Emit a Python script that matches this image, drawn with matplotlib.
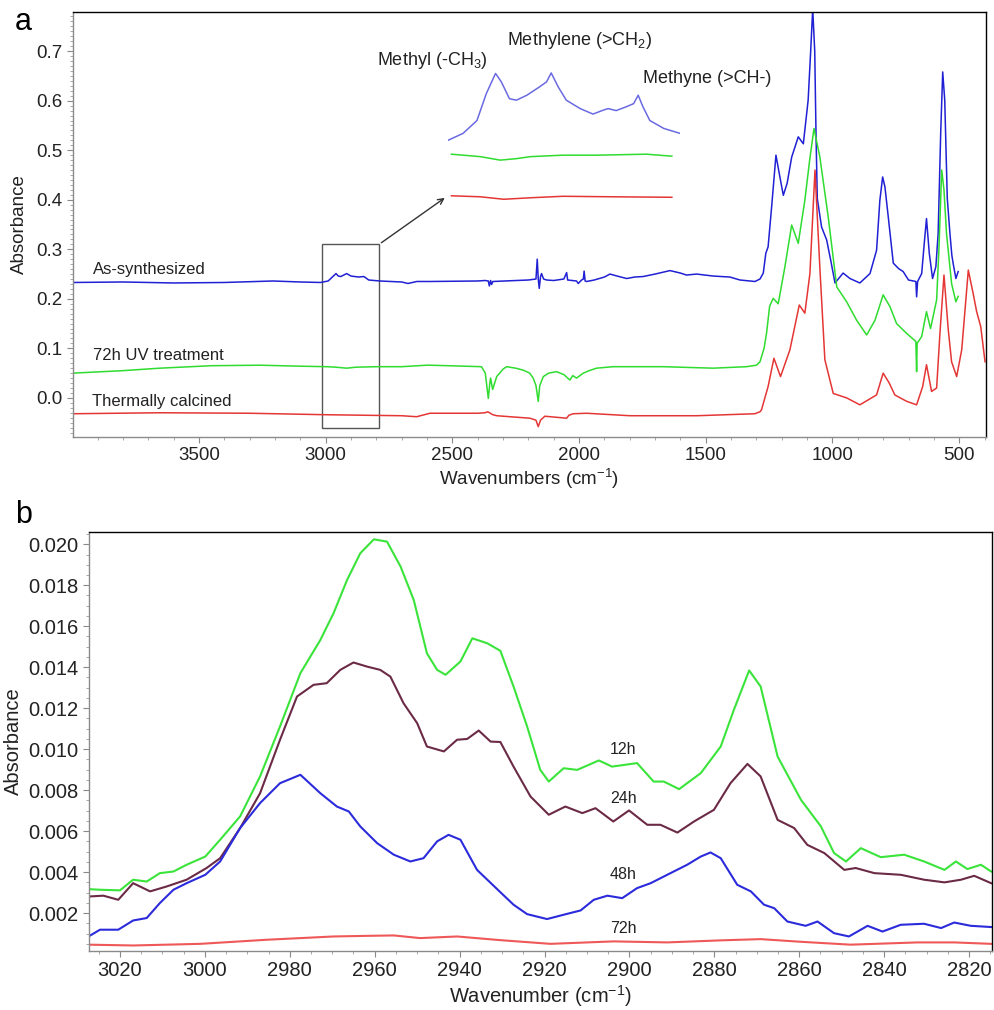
import numpy as np
import matplotlib
matplotlib.use("Agg")
import matplotlib.pyplot as plt
from matplotlib.patches import Rectangle
from matplotlib.ticker import MultipleLocator, FormatStrFormatter

plt.rcParams['font.family'] = ['Liberation Sans', 'DejaVu Sans']
plt.rcParams['mathtext.default'] = 'regular'

# ---------------- panel a: full FTIR spectra ----------------
blue_wn = [3997, 3800, 3600, 3400, 3208, 3100, 3020, 2990, 2959, 2950, 2940, 2917, 2900, 2870,
           2849, 2830, 2786, 2700, 2675, 2640, 2588, 2400, 2371, 2358, 2354, 2349, 2345, 2340,
           2200, 2170, 2165, 2161, 2157, 2152, 2148, 2140, 2128, 2100, 2060, 2049, 2045, 2010,
           2003, 1990, 1983, 1980, 1976, 1970, 1940, 1900, 1878, 1850, 1812, 1780, 1747, 1700,
           1641, 1600, 1576, 1536, 1471, 1405, 1365, 1306, 1286, 1273, 1263, 1254, 1240, 1223,
           1210, 1194, 1179, 1161, 1135, 1115, 1096, 1086, 1078, 1070, 1065, 1060, 1043, 1023,
           1007, 990, 958, 931, 892, 852, 826, 813, 802, 793, 780, 760, 739, 721, 700, 671, 668,
           664, 648, 639, 629, 618, 605, 592, 583, 573, 565, 557, 547, 537, 529, 524, 513, 504]
blue_y = [0.233, 0.234, 0.232, 0.233, 0.236, 0.234, 0.233, 0.236, 0.251, 0.246, 0.245, 0.251,
          0.246, 0.244, 0.245, 0.238, 0.236, 0.234, 0.231, 0.235, 0.235, 0.236, 0.237, 0.236,
          0.226, 0.237, 0.229, 0.235, 0.238, 0.240, 0.280, 0.240, 0.221, 0.245, 0.251, 0.240,
          0.238, 0.237, 0.240, 0.253, 0.238, 0.236, 0.231, 0.238, 0.240, 0.256, 0.236, 0.235,
          0.238, 0.244, 0.250, 0.246, 0.241, 0.244, 0.245, 0.250, 0.257, 0.252, 0.248, 0.250,
          0.246, 0.244, 0.238, 0.235, 0.240, 0.252, 0.292, 0.305, 0.386, 0.490, 0.453, 0.409,
          0.433, 0.486, 0.527, 0.513, 0.601, 0.700, 0.785, 0.700, 0.534, 0.403, 0.345, 0.319,
          0.278, 0.232, 0.252, 0.241, 0.232, 0.251, 0.298, 0.399, 0.446, 0.426, 0.366, 0.272,
          0.261, 0.255, 0.238, 0.235, 0.204, 0.235, 0.251, 0.305, 0.362, 0.292, 0.241, 0.265,
          0.332, 0.534, 0.658, 0.601, 0.403, 0.335, 0.288, 0.272, 0.241, 0.255]

green_wn = [3997, 3800, 3654, 3450, 3259, 3100, 2996, 2960, 2917, 2880, 2799, 2700, 2601, 2588,
            2450, 2385, 2370, 2358, 2352, 2349, 2341, 2333, 2325, 2300, 2286, 2250, 2220, 2195,
            2181, 2170, 2161, 2155, 2141, 2120, 2089, 2060, 2036, 2025, 2010, 1983, 1960, 1931,
            1865, 1668, 1471, 1339, 1300, 1286, 1270, 1260, 1248, 1234, 1214, 1188, 1161, 1135,
            1109, 1090, 1073, 1050, 1017, 983, 944, 905, 865, 832, 800, 773, 747, 707, 671, 668,
            666, 648, 629, 613, 589, 580, 569, 560, 550, 530, 513, 504]
green_y = [0.050, 0.055, 0.060, 0.065, 0.066, 0.064, 0.063, 0.062, 0.060, 0.062, 0.063, 0.063,
           0.066, 0.066, 0.064, 0.063, 0.050, -0.001, 0.030, 0.040, 0.017, 0.030, 0.043, 0.058,
           0.063, 0.060, 0.056, 0.050, 0.040, 0.025, -0.007, 0.025, 0.043, 0.050, 0.053, 0.047,
           0.036, 0.045, 0.040, 0.050, 0.055, 0.060, 0.063, 0.063, 0.060, 0.063, 0.066, 0.073,
           0.100, 0.131, 0.185, 0.201, 0.190, 0.264, 0.349, 0.312, 0.399, 0.480, 0.544, 0.487,
           0.366, 0.224, 0.194, 0.157, 0.127, 0.157, 0.208, 0.184, 0.150, 0.130, 0.114, 0.053,
           0.110, 0.124, 0.174, 0.140, 0.198, 0.300, 0.460, 0.420, 0.332, 0.231, 0.194, 0.205]

red_wn = [3997, 3654, 3300, 2996, 2850, 2700, 2641, 2588, 2400, 2371, 2360, 2340, 2325, 2194,
          2170, 2161, 2152, 2135, 2049, 2040, 2023, 1970, 1799, 1536, 1306, 1286, 1280, 1254,
          1231, 1205, 1168, 1131, 1109, 1089, 1069, 1050, 1030, 997, 944, 892, 826, 800, 776,
          754, 707, 668, 644, 629, 609, 589, 576, 560, 543, 530, 510, 490, 464, 445, 431, 415, 398]
red_y = [-0.032, -0.030, -0.031, -0.034, -0.035, -0.036, -0.038, -0.031, -0.031, -0.030, -0.028,
         -0.034, -0.036, -0.041, -0.045, -0.058, -0.045, -0.037, -0.041, -0.035, -0.032, -0.031,
         -0.036, -0.036, -0.032, -0.028, -0.024, 0.023, 0.080, 0.043, 0.097, 0.1875, 0.171, 0.251,
         0.460, 0.265, 0.077, 0.009, 0.000, -0.014, 0.006, 0.050, 0.030, 0.006, -0.007, -0.014,
         0.023, 0.067, 0.013, 0.020, 0.130, 0.248, 0.137, 0.073, 0.043, 0.097, 0.258, 0.211,
         0.174, 0.144, 0.073]

# magnified C-H stretching region (inset)
inset_wn_blue = [3000, 2987, 2975, 2967, 2959, 2954, 2947, 2941, 2932, 2921, 2915, 2911, 2905,
                 2898, 2886, 2875, 2866, 2862, 2855, 2846, 2840, 2836, 2832, 2826, 2814, 2800]
inset_blue = [0.520, 0.534, 0.560, 0.614, 0.655, 0.638, 0.604, 0.601, 0.611, 0.628, 0.638,
              0.656, 0.628, 0.601, 0.584, 0.573, 0.581, 0.584, 0.580, 0.588, 0.594, 0.611,
              0.588, 0.560, 0.544, 0.534]
inset_wn_green = [2997, 2972, 2955, 2941, 2929, 2901, 2872, 2829, 2807]
inset_green = [0.492, 0.487, 0.480, 0.483, 0.487, 0.490, 0.490, 0.492, 0.488]
inset_wn_red = [2997, 2972, 2952, 2929, 2901, 2858, 2807]
inset_red = [0.408, 0.406, 0.401, 0.404, 0.407, 0.406, 0.405]

# ---------------- panel b: C-H region vs UV time ----------------
h12_wn = [3027.4, 3024.7, 3020, 3016.9, 3013.7, 3010.6, 3007.4, 3004.3, 2999.9, 2996.4, 2991.7,
          2987, 2982.3, 2977.5, 2972.8, 2969.7, 2966.5, 2963.4, 2960.2, 2957.1, 2953.9, 2950.8,
          2947.7, 2945.3, 2943.3, 2939.8, 2937, 2933.5, 2930.4, 2927.3, 2924.1, 2921, 2919,
          2915.5, 2912.3, 2907.2, 2904.1, 2898.2, 2894.3, 2891.9, 2888.3, 2883.2, 2878.5, 2875.4,
          2871.8, 2869.1, 2865.1, 2859.6, 2854.9, 2851.8, 2849, 2845.5, 2840.8, 2835.3, 2830.6,
          2825.8, 2823.1, 2820.4, 2817.2, 2814.8]
h12 = [0.00317, 0.00314, 0.00311, 0.00363, 0.00354, 0.00395, 0.00403, 0.00436, 0.00476, 0.00558,
       0.00672, 0.00867, 0.01111, 0.01371, 0.01533, 0.01663, 0.01826, 0.01956, 0.02024, 0.02013,
       0.01891, 0.01728, 0.01468, 0.01387, 0.01363, 0.01428, 0.01541, 0.01517, 0.01480, 0.01306,
       0.01111, 0.00899, 0.00842, 0.00907, 0.00899, 0.00945, 0.00915, 0.00932, 0.00842, 0.00842,
       0.00805, 0.00883, 0.01013, 0.01192, 0.01384, 0.01306, 0.00964, 0.00753, 0.00623, 0.00493,
       0.00452, 0.00517, 0.00473, 0.00485, 0.00452, 0.00411, 0.00452, 0.00415, 0.00436, 0.00403]

h24_wn = [3027.4, 3023.9, 3020.4, 3016.9, 3012.9, 3009, 3004.3, 2999.6, 2996.4, 2991.7, 2987,
          2982.3, 2978.3, 2974.4, 2971.3, 2968.1, 2965, 2961.8, 2958.7, 2956.3, 2953.2, 2950,
          2947.7, 2943.7, 2940.6, 2938.2, 2935.5, 2932.7, 2930.4, 2927.3, 2923.3, 2919, 2915.1,
          2911.1, 2908, 2903.8, 2900.1, 2895.8, 2892.7, 2888.7, 2884.8, 2880.1, 2876.2, 2872.2,
          2869.1, 2865.1, 2861.2, 2858.1, 2854.1, 2849.4, 2846.7, 2842.3, 2836.1, 2830.6, 2825.8,
          2821.9, 2818.8, 2814.8]
h24 = [0.00281, 0.00285, 0.00265, 0.00346, 0.00306, 0.00330, 0.00363, 0.00420, 0.00468, 0.00615,
       0.00785, 0.01046, 0.01257, 0.01314, 0.01322, 0.01387, 0.01423, 0.01403, 0.01387, 0.01354,
       0.01224, 0.01127, 0.01013, 0.00989, 0.01046, 0.01050, 0.01091, 0.01037, 0.01035, 0.00915,
       0.00769, 0.00680, 0.00720, 0.00688, 0.00712, 0.00647, 0.00701, 0.00631, 0.00631, 0.00593,
       0.00647, 0.00704, 0.00834, 0.00928, 0.00867, 0.00655, 0.00615, 0.00533, 0.00493, 0.00411,
       0.00420, 0.00395, 0.00387, 0.00363, 0.00350, 0.00363, 0.00382, 0.00346]

h48_wn = [3027.4, 3024.7, 3020.4, 3016.9, 3013.7, 3010.6, 3007.4, 3004.3, 2999.9, 2996.4, 2991.7,
          2987, 2982.3, 2977.5, 2972.8, 2968.9, 2966.1, 2963.4, 2959.4, 2955.5, 2951.6, 2948.5,
          2945.3, 2942.6, 2939.8, 2935.9, 2930.4, 2927.3, 2924.1, 2919.4, 2915.5, 2911.5, 2908.4,
          2905.2, 2901.7, 2898.2, 2895, 2891.1, 2886.4, 2883.2, 2880.9, 2878.5, 2874.6, 2871.4,
          2868.3, 2865.9, 2862.8, 2858.5, 2855.7, 2851.8, 2848.3, 2843.9, 2840.4, 2836.1, 2830.6,
          2826.6, 2823.5, 2819.6, 2814.8]
h48 = [0.00086, 0.00119, 0.00119, 0.00164, 0.00176, 0.00249, 0.00314, 0.00346, 0.00387, 0.00452,
       0.00615, 0.00737, 0.00834, 0.00875, 0.00785, 0.00720, 0.00696, 0.00623, 0.00541, 0.00485,
       0.00452, 0.00468, 0.00550, 0.00582, 0.00558, 0.00411, 0.00302, 0.00241, 0.00195, 0.00171,
       0.00192, 0.00213, 0.00265, 0.00285, 0.00273, 0.00322, 0.00346, 0.00387, 0.00436, 0.00476,
       0.00496, 0.00468, 0.00338, 0.00306, 0.00241, 0.00224, 0.00159, 0.00138, 0.00159, 0.00102,
       0.00086, 0.00138, 0.00110, 0.00143, 0.00148, 0.00127, 0.00154, 0.00138, 0.00132]

h72_wn = [3027.4, 3016.9, 3001.1, 2985.4, 2977.5, 2969.7, 2961.8, 2955.5, 2949.3, 2940.6, 2930.4,
          2918.6, 2903.7, 2891.1, 2878.5, 2869.1, 2859.6, 2847.9, 2832.1, 2823.5, 2814.8]
h72 = [0.00046, 0.00042, 0.00050, 0.00070, 0.00078, 0.00086, 0.00089, 0.00091, 0.00078, 0.00086,
       0.00068, 0.00050, 0.00062, 0.00057, 0.00067, 0.00073, 0.00060, 0.00046, 0.00057, 0.00057,
       0.00050]

fig = plt.figure(figsize=(9.94, 10.10), dpi=100)
ax1 = fig.add_axes([0.0734, 0.5673, 0.9186, 0.4208])
ax2 = fig.add_axes([0.0895, 0.0584, 0.9085, 0.4149])


def style_axes(ax, fs):
    for s in ['top', 'right']:
        ax.spines[s].set_color('black')
        ax.spines[s].set_linewidth(1.0)
    for s in ['left', 'bottom']:
        ax.spines[s].set_color('#8a8a8a')
        ax.spines[s].set_linewidth(1.0)
    ax.tick_params(which='major', length=4, width=0.8, color='#8a8a8a',
                   labelsize=fs, labelcolor='#222222')
    ax.tick_params(which='minor', length=2, width=0.6, color='#9a9a9a')


# panel a
ax1.plot(blue_wn, blue_y, color='#2020d4', lw=1.1)
ax1.plot(green_wn, green_y, color='#2fdc2f', lw=1.1)
ax1.plot(red_wn, red_y, color='#e53636', lw=1.1)
ax1.set_xlim(3997, 394)
ax1.set_ylim(-0.079, 0.779)
ax1.xaxis.set_major_locator(MultipleLocator(500))
ax1.xaxis.set_minor_locator(MultipleLocator(100))
ax1.yaxis.set_major_locator(MultipleLocator(0.1))
ax1.yaxis.set_minor_locator(MultipleLocator(0.01))
ax1.yaxis.set_major_formatter(FormatStrFormatter('%.1f'))
ax1.set_xticks([3500, 3000, 2500, 2000, 1500, 1000, 500])
style_axes(ax1, 13.5)
ax1.set_ylabel('Absorbance', fontsize=13.5, color='#222222', labelpad=6)
ax1.set_xlabel('Wavenumbers (cm$^{-1}$)', fontsize=13.5, color='#222222', labelpad=2)

ax1.text(3917, 0.259, 'As-synthesized', fontsize=12, va='center', ha='left', color='#222222')
ax1.text(3917, 0.085, '72h UV treatment', fontsize=12, va='center', ha='left', color='#222222')
ax1.text(3922, -0.008, 'Thermally calcined', fontsize=12, va='center', ha='left', color='#222222')

ax1.add_patch(Rectangle((2789, -0.061), 226, 0.371, fill=False, ec='#555555', lw=1.0))
ax1.annotate('', xy=(2521, 0.407), xytext=(2789, 0.31),
             arrowprops=dict(arrowstyle='->', color='#333333', lw=1.0))

ax1.text(2798, 0.681, 'Methyl (-CH$_3$)', fontsize=13, va='center', ha='left', color='#222222')
ax1.text(2285, 0.722, 'Methylene (>CH$_2$)', fontsize=13, va='center', ha='left', color='#222222')
ax1.text(1748, 0.645, 'Methyne (>CH-)', fontsize=13, va='center', ha='left', color='#222222')

axin = ax1.inset_axes([0.4107, 0.0, 0.2541, 1.0])
axin.plot(inset_wn_blue, inset_blue, color='#6a6ae2', lw=1.1)
axin.plot(inset_wn_green, inset_green, color='#2fdc2f', lw=1.1)
axin.plot(inset_wn_red, inset_red, color='#e53636', lw=1.1)
axin.set_xlim(3000, 2800)
axin.set_ylim(-0.079, 0.779)
axin.axis('off')

fig.text(0.015, 0.978, 'a', fontsize=22, va='center', ha='left')

# panel b
ax2.plot(h12_wn, h12, color='#3ae43a', lw=1.5)
ax2.plot(h24_wn, h24, color='#6b2a45', lw=1.5)
ax2.plot(h48_wn, h48, color='#2b2bdc', lw=1.5)
ax2.plot(h72_wn, h72, color='#ef5858', lw=1.5)
ax2.set_xlim(3027.3, 2814.6)
ax2.set_ylim(0.00015, 0.0206)
ax2.set_xticks(np.arange(3020, 2819, -20))
ax2.xaxis.set_minor_locator(MultipleLocator(5))
ax2.set_yticks(np.arange(0.002, 0.0201, 0.002))
ax2.yaxis.set_minor_locator(MultipleLocator(0.0005))
ax2.yaxis.set_major_formatter(FormatStrFormatter('%.3f'))
style_axes(ax2, 14.5)
ax2.set_ylabel('Absorbance', fontsize=14.5, color='#222222', labelpad=4)
ax2.set_xlabel('Wavenumber (cm$^{-1}$)', fontsize=14.5, color='#222222', labelpad=2)

for lab, yv in [('12h', 0.00997), ('24h', 0.00761), ('48h', 0.00387), ('72h', 0.00127)]:
    ax2.text(2901.5, yv, lab, fontsize=11.5, ha='center', va='center', color='#222222')

fig.text(0.015, 0.490, 'b', fontsize=22, va='center', ha='left')

fig.savefig('out.png', dpi=100)
